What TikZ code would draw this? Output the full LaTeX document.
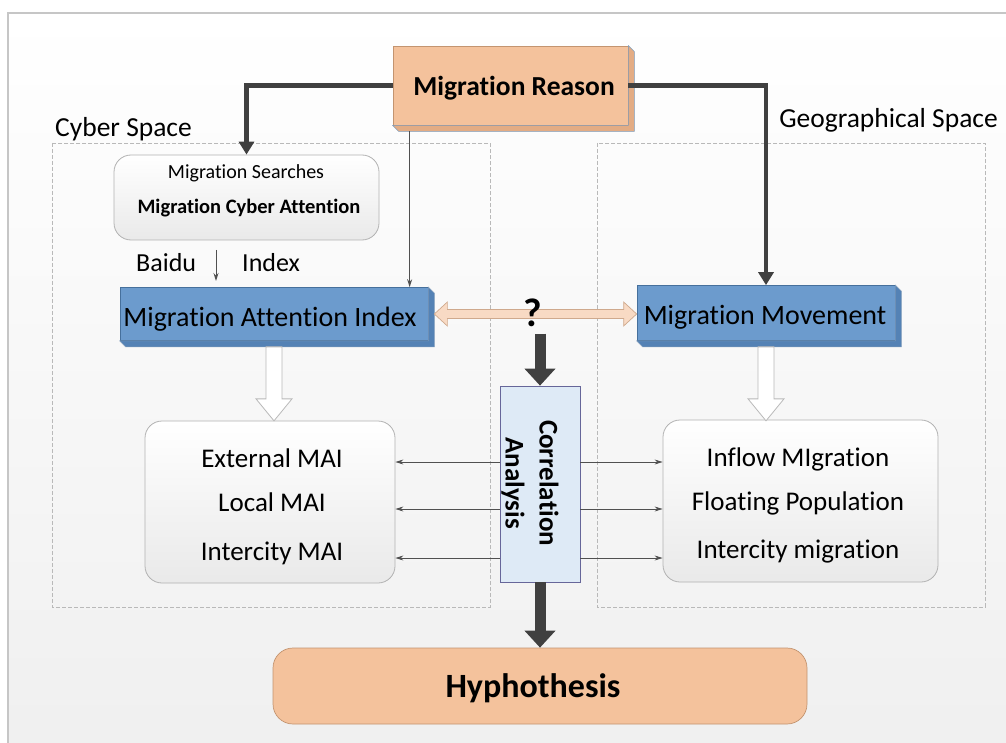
\documentclass[tikz,border=0pt]{standalone}
\usepackage{fontspec}
\setmainfont{Carlito}[Ligatures=NoCommon]
\usetikzlibrary{arrows.meta,calc}
\definecolor{peach}{HTML}{F4C29C}
\definecolor{peachline}{HTML}{C39470}
\definecolor{peachside}{HTML}{E3AC84}
\definecolor{steel}{HTML}{6C9BCD}
\definecolor{steelline}{HTML}{46709C}
\definecolor{steelside}{HTML}{5482B5}
\definecolor{paleblue}{HTML}{DEEAF6}
\definecolor{darkarrow}{HTML}{404040}
\definecolor{thinline}{HTML}{505050}
\tikzset{
  facebox/.style={draw=#1, line width=0.7pt, inner sep=0pt},
  softbox/.style={draw=gray!60, line width=0.8pt, rounded corners=17pt,
    top color=white, bottom color=gray!17, inner sep=0pt},
  spacebox/.style={draw=gray!55, dashed, dash pattern=on 4pt off 2pt, line width=0.8pt},
  bigarrow/.style={darkarrow, line width=11pt, -{Triangle[width=30pt,length=17pt]}},
  elbowarrow/.style={darkarrow, line width=4.5pt, -{Triangle[width=15pt,length=13pt]}},
  thinarrow/.style={thinline, line width=0.9pt, -{Stealth[length=8pt,width=5pt]}},
  hollowarrow/.style={draw=gray!55, fill=white, line width=0.8pt},
  label/.style={inner sep=0pt, anchor=base, font=\fontsize{27}{30}\selectfont}
}
\newcommand\extrude[2]{%
  \filldraw[fill=#2, draw=steelline!70, line width=0.5pt]
    (#1.north east) -- ++(6,6) -- ($(#1.south east)+(6,6)$)
    -- ($(#1.south west)+(6,6)$) -- (#1.south west) -- (#1.south east) -- cycle;}
\begin{document}
\begin{tikzpicture}[x=1pt,y=-1pt]
\useasboundingbox (0,0) rectangle (1006,743);
% background and frame
\fill[white] (0,0) rectangle (1006,743);
\shade[top color=white, bottom color=gray!12] (8,13) rectangle (1006,743);
\draw[gray!45, line width=1.5pt] (8,743) -- (8,13) -- (1006,13);

% the two spaces
\draw[spacebox] (52,143) rectangle (490,607);
\draw[spacebox] (597,143) rectangle (985,607);
\node[label, anchor=base west, font=\fontsize{27.5}{30}\selectfont] (cyber) at (55,137) {Cyber Space};
\node[label, anchor=base east, font=\fontsize{27.5}{30}\selectfont] (geo) at (998,128) {Geographical Space};

% boxes
\node[facebox=peachline, fill=peach, minimum width=235pt, minimum height=79pt] (reason) at (510.5,85.5) {};
\node[softbox, minimum width=265pt, minimum height=85pt] (search) at (246.5,197.5) {};
\node[facebox=steelline, fill=steel, minimum width=308pt, minimum height=53pt] (mai) at (274,314) {};
\node[facebox=steelline, fill=steel, minimum width=258pt, minimum height=55pt] (move) at (766,313) {};
\node[facebox=gray!80!blue, fill=paleblue, minimum width=80pt, minimum height=196pt] (corr) at (540,484) {};
\node[softbox, minimum width=250pt, minimum height=162pt] (lbox) at (270,502) {};
\node[softbox, minimum width=275pt, minimum height=162pt] (rbox) at (800.5,501) {};
\node[facebox=peachline, fill=peach, rounded corners=20pt, minimum width=534pt, minimum height=76pt] (hyp) at (540,686) {};

% 3d sides
\extrude{reason}{peachside}
\extrude{mai}{steelside}
\extrude{move}{steelside}

% connectors
\draw[elbowarrow] (reason.west) -| (search.north);
\draw[elbowarrow] (reason.east) -| (move.north);
\coordinate (r1) at ([xshift=17pt]reason.south west);
\draw[thinarrow] ([yshift=-6pt]r1) -- (r1 |- mai.north);
\coordinate (b1) at (216,250);
\coordinate (b2) at (216,281);
\draw[thinarrow] (b1) -- (b2);

\coordinate (dl) at ([xshift=6pt]mai.east);
\coordinate (dr) at (move.west |- dl);
\filldraw[draw=peachline!80, fill=peach!60, line width=0.7pt]
  (dl) -- ++(13,-12) -- ++(0,7.5) -- ($(dr)+(-13,-4.5)$) -- ++(0,-7.5) -- (dr)
  -- ++(-13,12) -- ++(0,-7.5) -- ($(dl)+(13,4.5)$) -- ++(0,7.5) -- cycle;

\draw[bigarrow] ([yshift=52pt]corr.north) -- (corr.north);
\draw[bigarrow] (corr.south) -- (hyp.north -| corr.south);

\draw[hollowarrow] ($(mai.south)+(-8,6)$) -- ++(0,52) -- ++(-10,0) -- ++(18,22)
  -- ++(18,-22) -- ++(-10,0) -- ++(0,-52) -- cycle;
\draw[hollowarrow] ($(move.south)+(-8,6)$) -- ++(0,52) -- ++(-10,0) -- ++(18,22)
  -- ++(18,-22) -- ++(-10,0) -- ++(0,-52) -- cycle;

\foreach \y in {462,509,558} {
  \draw[thinarrow] (corr.west |- 0,\y) -- (lbox.east |- 0,\y);
  \draw[thinarrow] (corr.east |- 0,\y) -- (rbox.west |- 0,\y);
}

% texts
\node[label, font=\fontsize{27.5}{30}\selectfont\bfseries] (reasontxt) at (514,96) {Migration Reason};
\node[label, font=\fontsize{20}{22}\selectfont] (search1) at (246,179) {Migration Searches};
\node[label, font=\fontsize{20.5}{22}\selectfont\bfseries] (search2) at (249,214) {Migration Cyber Attention};
\node[label, anchor=base west, font=\fontsize{26}{28}\selectfont] (baidu) at (136,272) {Baidu};
\node[label, anchor=base west, font=\fontsize{26}{28}\selectfont] (index) at (242,272) {Index};
\node[label, font=\fontsize{28}{30}\selectfont] (maitxt) at (270,326) {Migration Attention Index};
\node[label, font=\fontsize{28}{30}\selectfont] (movetxt) at (765,324) {Migration Movement};
\node[label] (ext) at (272,467) {External MAI};
\node[label] (loc) at (272,511) {Local MAI};
\node[label] (inter) at (272,560) {Intercity MAI};
\node[label] (inflow) at (798,466) {Inflow MIgration};
\node[label] (float) at (798,510) {Floating Population};
\node[label] (intermig) at (798,558) {Intercity migration};
\node[inner sep=0pt, rotate=-90, align=center, font=\fontsize{27}{34}\selectfont\bfseries] (corrtxt) at (530,483) {Correlation\\Analysis};
\node[label, font=\fontsize{34}{38}\selectfont\bfseries] (hyptxt) at (533,697) {Hyphothesis};
\node[inner sep=0pt, font=\fontsize{40}{42}\selectfont\bfseries] (q) at (533,313) {?};
\end{tikzpicture}
\end{document}
